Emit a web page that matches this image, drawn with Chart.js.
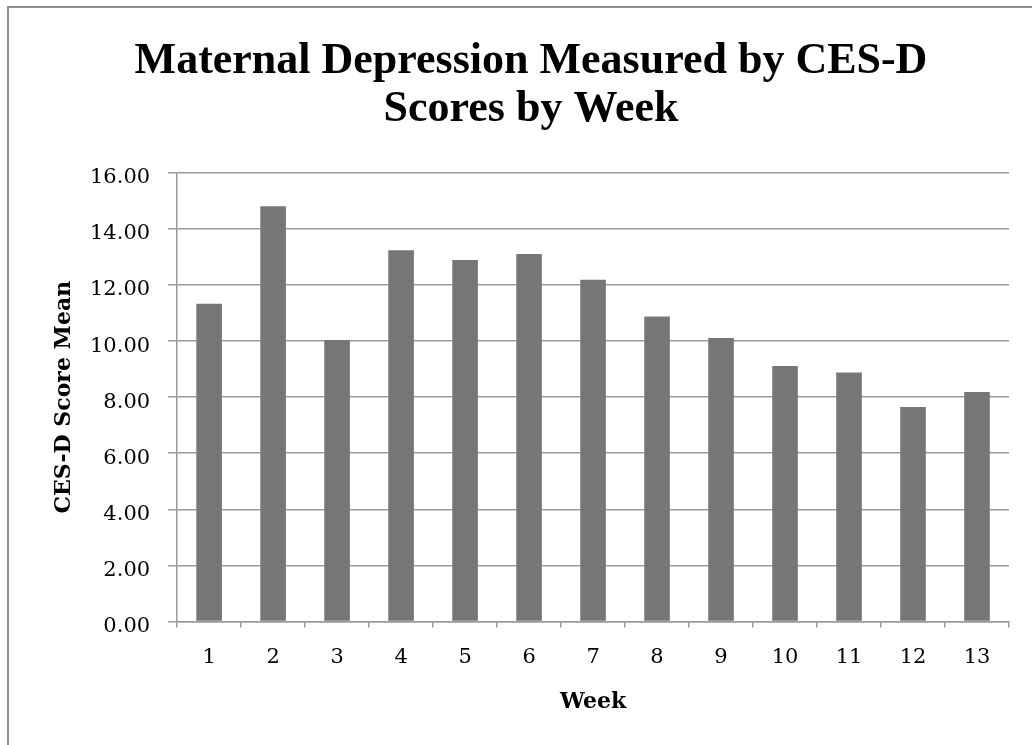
<!DOCTYPE html>
<html>
<head>
<meta charset="utf-8">
<script src="https://cdn.jsdelivr.net/npm/chart.js@4/dist/chart.umd.min.js"></script>
<style>
  html, body { margin: 0; padding: 0; background: #fff; }
  #wrap { position: relative; width: 1032px; height: 745px; overflow: hidden; }
  #frame {
    position: absolute; left: 7px; top: 6px; width: 1100px; height: 800px;
    border-top: 2px solid #8e8e8e; border-left: 2px solid #8e8e8e;
  }
  #chart { position: absolute; left: 0; top: 0; }
</style>
</head>
<body>
<div id="wrap">
  <div id="frame"></div>
  <canvas id="chart" width="1032" height="745"></canvas>
</div>
<script>
// CES-D weekly means
const weeks = ["1", "2", "3", "4", "5", "6", "7", "8", "9", "10", "11", "12", "13"];
const cesdMeans = [11.33, 14.81, 10.04, 13.24, 12.89, 13.11, 12.19, 10.88, 10.11, 9.11, 8.88, 7.65, 8.18];
const yTicks = [0, 2, 4, 6, 8, 10, 12, 14, 16];

const axisFont = "'DejaVu Serif', serif";
const gridGrey = "#9a9a9a";

let ctx = document.getElementById("chart").getContext("2d");

new Chart(ctx, {
    type: "bar",
    data: {
        labels: weeks,
        datasets: [{
            label: "CES-D Score Mean",
            data: cesdMeans,
            backgroundColor: "#767676",
            borderWidth: 0,
            categoryPercentage: 1.0,
            barPercentage: 0.4
        }]
    },
    options: {
        responsive: false,
        animation: false,
        layout: { padding: { left: 53, right: 23, top: 10, bottom: 30 } },
        plugins: {
            legend: { display: false },
            tooltip: { enabled: false },
            title: {
                display: true,
                text: ["Maternal Depression Measured by CES-D", "Scores by Week"],
                color: "#000",
                font: { family: "'Liberation Serif', serif", size: 44, weight: "bold", lineHeight: 1.09 },
                padding: { top: 28, bottom: 39 }
            }
        },
        scales: {
            x: {
                grid: {
                    display: true,
                    drawOnChartArea: false,
                    drawTicks: true,
                    tickLength: 6,
                    color: gridGrey,
                    lineWidth: 1.5
                },
                border: { display: true, color: gridGrey, width: 1.5 },
                ticks: {
                    color: "#000",
                    font: { family: axisFont, size: 21 },
                    padding: 18
                },
                title: {
                    display: true,
                    text: "Week",
                    color: "#000",
                    font: { family: axisFont, size: 22, weight: "bold" },
                    padding: { top: 0, bottom: 0 }
                }
            },
            y: {
                min: 0,
                max: 16,
                afterBuildTicks: axis => {
                    axis.ticks = yTicks.map(v => ({ value: v }));
                },
                grid: {
                    color: gridGrey,
                    lineWidth: 1.5,
                    drawTicks: true,
                    tickLength: 9
                },
                border: { display: true, color: gridGrey, width: 1.5 },
                ticks: {
                    color: "#000",
                    font: { family: axisFont, size: 21 },
                    padding: 18,
                    labelOffset: 5,
                    callback: v => Number(v).toFixed(2)
                },
                title: {
                    display: true,
                    text: "CES-D Score Mean",
                    color: "#000",
                    font: { family: axisFont, size: 22, weight: "bold", lineHeight: 1.0 },
                    padding: { top: 0, bottom: -3 }
                }
            }
        }
    }
});
</script>
</body>
</html>
